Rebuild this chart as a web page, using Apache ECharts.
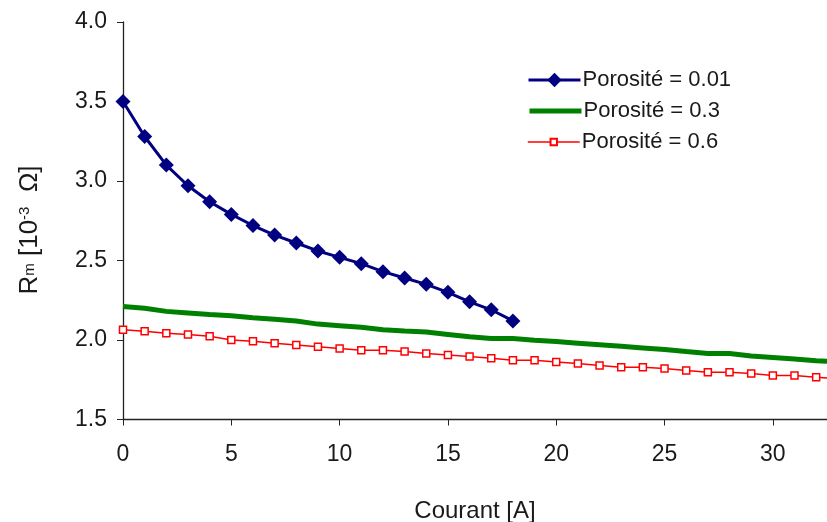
<!DOCTYPE html>
<html>
<head>
<meta charset="utf-8">
<script src="https://cdn.jsdelivr.net/npm/echarts@6/dist/echarts.min.js"></script>
<style>html,body{margin:0;padding:0;background:#fff}#c{width:827px;height:522px}</style>
</head>
<body>
<div id="c"></div>
<script>
// Current [A]
const currentBlue = [0,1,2,3,4,5,6,7,8,9,10,11,12,13,14,15,16,17,18];
const currentAll = [0,1,2,3,4,5,6,7,8,9,10,11,12,13,14,15,16,17,18,19,20,21,22,23,24,25,26,27,28,29,30,31,32,33];
// Rm [1e-3 Ohm]
const poro001 = [3.50,3.28,3.10,2.97,2.87,2.79,2.72,2.66,2.61,2.56,2.52,2.48,2.43,2.39,2.35,2.30,2.24,2.19,2.12];
const poro03 = [2.21,2.20,2.18,2.17,2.16,2.153,2.14,2.13,2.12,2.10,2.09,2.08,2.065,2.057,2.05,2.035,2.02,2.01,2.01,1.998,1.99,1.98,1.97,1.96,1.95,1.94,1.927,1.915,1.915,1.90,1.89,1.88,1.87,1.862];
const poro06 = [2.065,2.055,2.042,2.034,2.023,2.00,1.992,1.98,1.969,1.957,1.946,1.935,1.935,1.927,1.915,1.905,1.896,1.885,1.873,1.873,1.862,1.852,1.839,1.829,1.829,1.82,1.808,1.797,1.797,1.789,1.776,1.776,1.766,1.755];
const xTicks = [0,5,10,15,20,25,30];
const names = ['Porosité = 0.01','Porosité = 0.3','Porosité = 0.6'];

const zip = (xs, ys) => ys.map((v, i) => [xs[i], v]);
const font = 'Liberation Sans, Arial, sans-serif';
const txt = '#1a1a1a';
const legendText = { fontFamily: font, fontSize: 22, color: txt, padding: [0,0,0,-3] };
const chart = echarts.init(document.getElementById('c'));
chart.setOption({
  animation: false,
  grid: { left: 123, right: 0, top: 22, bottom: 102.5, containLabel: false, outerBoundsMode: 'none' },
  legend: [
    { orient: 'vertical', left: 522, top: 64, itemWidth: 52, itemHeight: 18, textStyle: legendText,
      data: [{ name: names[0], lineStyle: { width: 3 } }] },
    { orient: 'vertical', left: 522, top: 95, itemWidth: 52, itemHeight: 18, textStyle: legendText,
      data: [{ name: names[1], itemStyle: { opacity: 0 }, lineStyle: { width: 5, color: '#008000' } }] },
    { orient: 'vertical', left: 522, top: 126, itemWidth: 52, itemHeight: 8, textStyle: legendText,
      data: [{ name: names[2], lineStyle: { width: 1.5 } }] }
  ],
  xAxis: {
    type: 'value', min: 0, max: 32.5, interval: 5,
    name: 'Courant [A]', nameLocation: 'middle', nameGap: 80,
    nameTextStyle: { fontFamily: font, fontSize: 24, color: txt },
    axisLine: { lineStyle: { color: '#222', width: 1.3 } },
    axisTick: { length: 6, lineStyle: { color: '#222' }, customValues: xTicks },
    axisLabel: { fontFamily: font, fontSize: 23, color: txt, margin: 24, customValues: xTicks },
    splitLine: { show: false }
  },
  yAxis: {
    type: 'value', min: 1.5, max: 4.0, interval: 0.5,
    axisLine: { show: true, lineStyle: { color: '#222', width: 1.3 } },
    axisTick: { show: true, length: 6, lineStyle: { color: '#222' } },
    axisLabel: { fontFamily: font, fontSize: 23, color: txt, margin: 16, formatter: v => v.toFixed(1) },
    splitLine: { show: false }
  },
  graphic: [{
    type: 'text', x: 30, y: 230, rotation: Math.PI / 2,
    style: {
      text: 'R{m|m} [10{s|-3}  Ω]', align: 'center', verticalAlign: 'middle',
      font: '26px ' + font, fill: txt,
      rich: {
        m: { fontFamily: font, fontSize: 15, fill: txt, verticalAlign: 'middle' },
        s: { fontFamily: font, fontSize: 15, fill: txt, verticalAlign: 'top', lineHeight: 22 }
      }
    }
  }],
  series: [
    {
      name: names[0], type: 'line', data: zip(currentBlue, poro001),
      symbol: 'diamond', symbolSize: 15, showSymbol: true,
      lineStyle: { color: '#000080', width: 3 },
      itemStyle: { color: '#000080' }, z: 3
    },
    {
      name: names[1], type: 'line', data: zip(currentAll, poro03),
      symbol: 'none', showSymbol: false,
      lineStyle: { color: '#008000', width: 5 },
      itemStyle: { color: '#008000' }, z: 2
    },
    {
      name: names[2], type: 'line', data: zip(currentAll, poro06),
      symbol: 'rect', symbolSize: 7,
      lineStyle: { color: '#ff0000', width: 1.5 },
      itemStyle: { color: '#ffffff', borderColor: '#ff0000', borderWidth: 1.5 }, z: 1
    }
  ]
});
</script>
</body>
</html>
